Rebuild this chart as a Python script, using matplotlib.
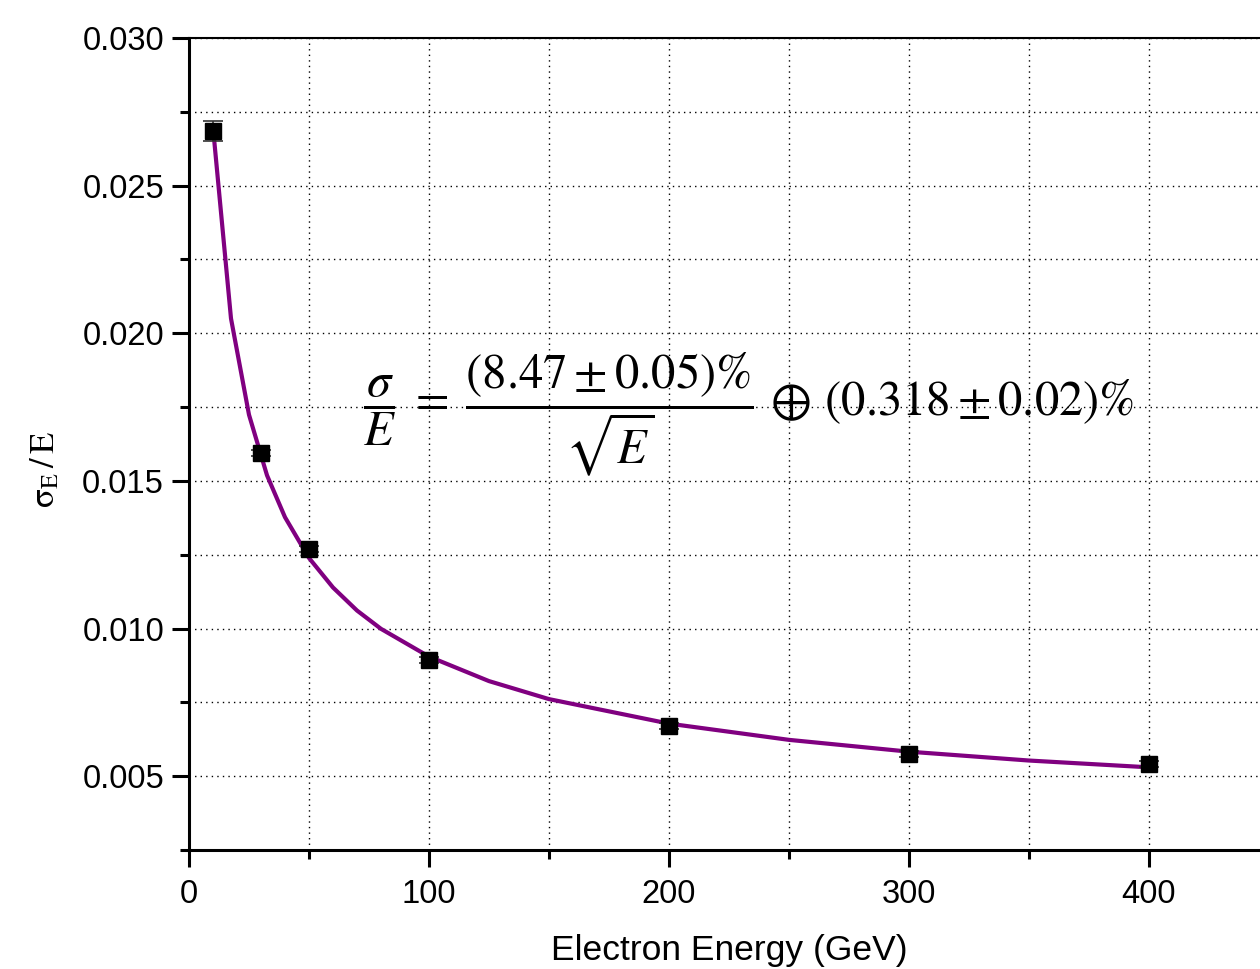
import matplotlib
matplotlib.use("Agg")
import matplotlib.pyplot as plt
from matplotlib.ticker import MultipleLocator

# ---- data ----
energy = [10, 30, 50, 100, 200, 300, 400]
resolution = [0.02685, 0.01594, 0.01269, 0.00893, 0.00669, 0.00575, 0.00541]
resolution_err = [0.00034, 0.00010, 0.00010, 0.00010, 0.00010, 0.00010, 0.00010]

fit_energy = [10, 17.5, 25, 32.5, 40, 50, 60, 70, 80, 100, 125, 150, 200, 250, 300, 350, 400]
fit_resolution = [0.02697, 0.02050, 0.01724, 0.01519, 0.01377, 0.01239, 0.01139, 0.01061,
                  0.00999, 0.00905, 0.00822, 0.00761, 0.00678, 0.00623, 0.00583, 0.00553, 0.00530]

x_major = [0, 100, 200, 300, 400]
y_major = [0.005, 0.010, 0.015, 0.020, 0.025, 0.030]
y_tick_labels = ["0.005", "0.010", "0.015", "0.020", "0.025", "0.030"]

formula = (r'$\dfrac{\sigma}{E}\;=\;\dfrac{(8.47 \pm 0.05)\%}{\sqrt{E}}'
           r'\,\oplus\,(0.318 \pm 0.02)\%$')
xlabel = "Electron Energy (GeV)"
ylabel = r'$\mathrm{\sigma_{E}\,/\,E}$'

# ---- figure ----
plt.rcParams['mathtext.fontset'] = 'stix'
plt.rcParams['font.family'] = ['Liberation Sans', 'DejaVu Sans']

W, H = 1260, 969
fig = plt.figure(figsize=(W / 100, H / 100), dpi=100)
left, right_px, top, bottom = 189, 189 + 1080, 38, 850
ax = fig.add_axes([left / W, 1 - bottom / H, (right_px - left) / W, (bottom - top) / H])

ax.set_xlim(0, 450)
ax.set_ylim(0.0025, 0.030)

ax.plot(fit_energy, fit_resolution, color='#800080', lw=3.0, zorder=3, solid_capstyle='round')
ax.errorbar(energy, resolution, yerr=resolution_err, fmt='s', color='black', ms=11.5,
            ecolor='#333333', elinewidth=1.2, capsize=7, capthick=1.2, zorder=4)

ax.set_xticks(x_major)
ax.xaxis.set_minor_locator(MultipleLocator(50))
ax.set_yticks(y_major)
ax.set_yticklabels(y_tick_labels)
ax.yaxis.set_minor_locator(MultipleLocator(0.0025))

ax.grid(True, which='both', linestyle=(0, (1, 3)), color='black', linewidth=1.0)
ax.set_axisbelow(True)

ax.tick_params(axis='both', which='major', direction='out', length=12, width=2.2,
               labelsize=23.5, color='black')
ax.tick_params(axis='both', which='minor', direction='out', length=6.5, width=2.2)
ax.tick_params(axis='x', which='major', pad=9)
ax.tick_params(axis='y', which='major', pad=6)

for s in ['left', 'bottom']:
    ax.spines[s].set_linewidth(2.2)
ax.spines['top'].set_linewidth(1.5)
ax.spines['right'].set_linewidth(1.5)

ax.set_xlabel(xlabel, fontsize=25.5, labelpad=17)
fig.text(45 / W, 1 - 470 / H, ylabel, rotation=90, fontsize=25, ha='center', va='center')

ax.text(233, 0.01725, formula, fontsize=35, ha='center', va='center', zorder=5)

fig.savefig("out.png", dpi=100)
